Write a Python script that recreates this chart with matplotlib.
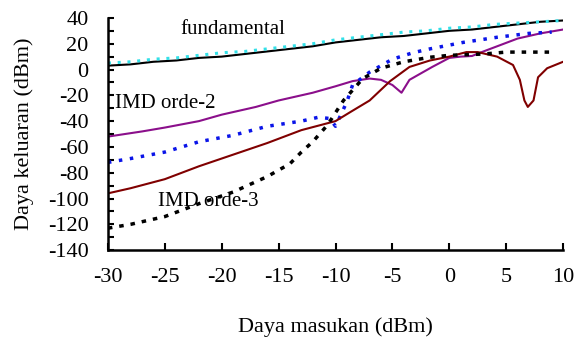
import matplotlib.pyplot as plt
from matplotlib.ticker import MultipleLocator

# input power sweep (dBm) and measured output power per product (dBm)
fund_x = [-30, -28, -26, -24, -22, -20, -18, -16, -14, -12, -10, -8, -6, -4, -2, 0, 2, 4, 6, 8, 10]
fund_y = [3, 4, 6, 7, 9, 10, 12, 14, 16, 18, 21, 23, 25, 26, 28, 30, 31, 33, 35, 37, 38]
fund_sim_y = [5, 6, 8, 9, 11, 13, 14, 16, 18, 20, 23, 25, 27, 29, 30, 32, 33, 35, 36, 37, 38]

imd2_x = [-30, -27, -25, -22, -20, -17, -15, -12, -10, -8.5, -7, -6, -5, -4.2, -3.5, -2.5, -1.5, 0, 1, 2, 3, 4.5, 6, 8, 10]
imd2_y = [-52, -48, -45, -40, -35, -29, -24, -18, -13, -9, -7, -8, -12, -18, -8, -3, 2, 9, 10, 10.5, 14, 19, 24, 28, 31]

imd2_sim_x = [-30, -28, -25, -22, -19, -16, -13, -11.5, -10.5, -10, -9, -8.5, -7, -6, -5, -3.2, -1.7, 1.2, 4.2, 7, 9]
imd2_sim_y = [-72, -69, -64, -56, -51, -44, -40, -37, -38, -44, -25, -12, -2, 3, 8, 13, 16, 21, 25, 28, 29]

imd3_x = [-30, -28, -25, -22, -19, -16, -13, -10, -8.7, -7, -5.2, -3.5, -1.7, 0, 1.5, 2.5, 4.2, 5.6, 6.2, 6.6, 6.9, 7.4, 7.8, 8.6, 10]
imd3_y = [-96, -92, -85, -75, -66, -57, -47, -40, -33, -24, -9, 2, 7, 10, 13.5, 13.5, 10, 3.5, -8, -24, -29, -24, -6, 1, 6]

imd3_sim_x = [-30, -28, -25, -22, -19, -16, -14, -13, -12, -10.7, -9.3, -7.6, -6, -4, -1.7, 0, 3, 5, 7, 9]
imd3_sim_y = [-123, -120, -114, -104, -95, -83, -73, -64, -56, -43, -24, -7, 1, 6, 9.5, 11, 12, 13.5, 13.5, 13.5]

plt.rcParams['font.family'] = ['Liberation Serif', 'DejaVu Serif']
plt.rcParams['axes.unicode_minus'] = False

fig = plt.figure(figsize=(5.74, 3.38), dpi=100)
ax = fig.add_axes([0.188, 0.26, 0.793, 0.687])

ax.plot(fund_x, fund_y, color='black', lw=1.5)
ax.plot(fund_x, fund_sim_y, color='#33e0e8', lw=2.2, ls=(0, (1, 2.2)))
ax.plot(imd2_x, imd2_y, color='#8b0f8b', lw=1.5)
ax.plot(imd2_sim_x, imd2_sim_y, color='#0a14e8', lw=2.5, ls=(0, (1, 2.2)))
ax.plot(imd3_x, imd3_y, color='#800000', lw=1.5)
ax.plot(imd3_sim_x, imd3_sim_y, color='black', lw=2.5, ls=(0, (1.3, 2)))

ax.set_xlim(-30, 10)
ax.set_ylim(-140, 40)
ax.xaxis.set_major_locator(MultipleLocator(5))
ax.yaxis.set_major_locator(MultipleLocator(20))
ax.yaxis.set_minor_locator(MultipleLocator(10))

for side in ('top', 'right'):
    ax.spines[side].set_visible(False)
for side in ('left', 'bottom'):
    ax.spines[side].set_linewidth(1.8)

ax.tick_params(axis='both', which='both', direction='in', labelsize=16, width=1.5)
ax.tick_params(axis='y', which='both', length=4, pad=14)
ax.tick_params(axis='x', which='major', length=5, pad=13)

ax.set_xlabel('Daya masukan (dBm)', fontsize=16, labelpad=22)
ax.set_ylabel('Daya keluaran (dBm)', fontsize=16, labelpad=10)

ax.text(-23.6, 31, 'fundamental', fontsize=15, va='center', ha='left')
ax.text(-29.4, -26, 'IMD orde-2', fontsize=15, va='center', ha='left')
ax.text(-25.6, -102, 'IMD orde-3', fontsize=15, va='center', ha='left')

fig.savefig('out.png', dpi=100)
